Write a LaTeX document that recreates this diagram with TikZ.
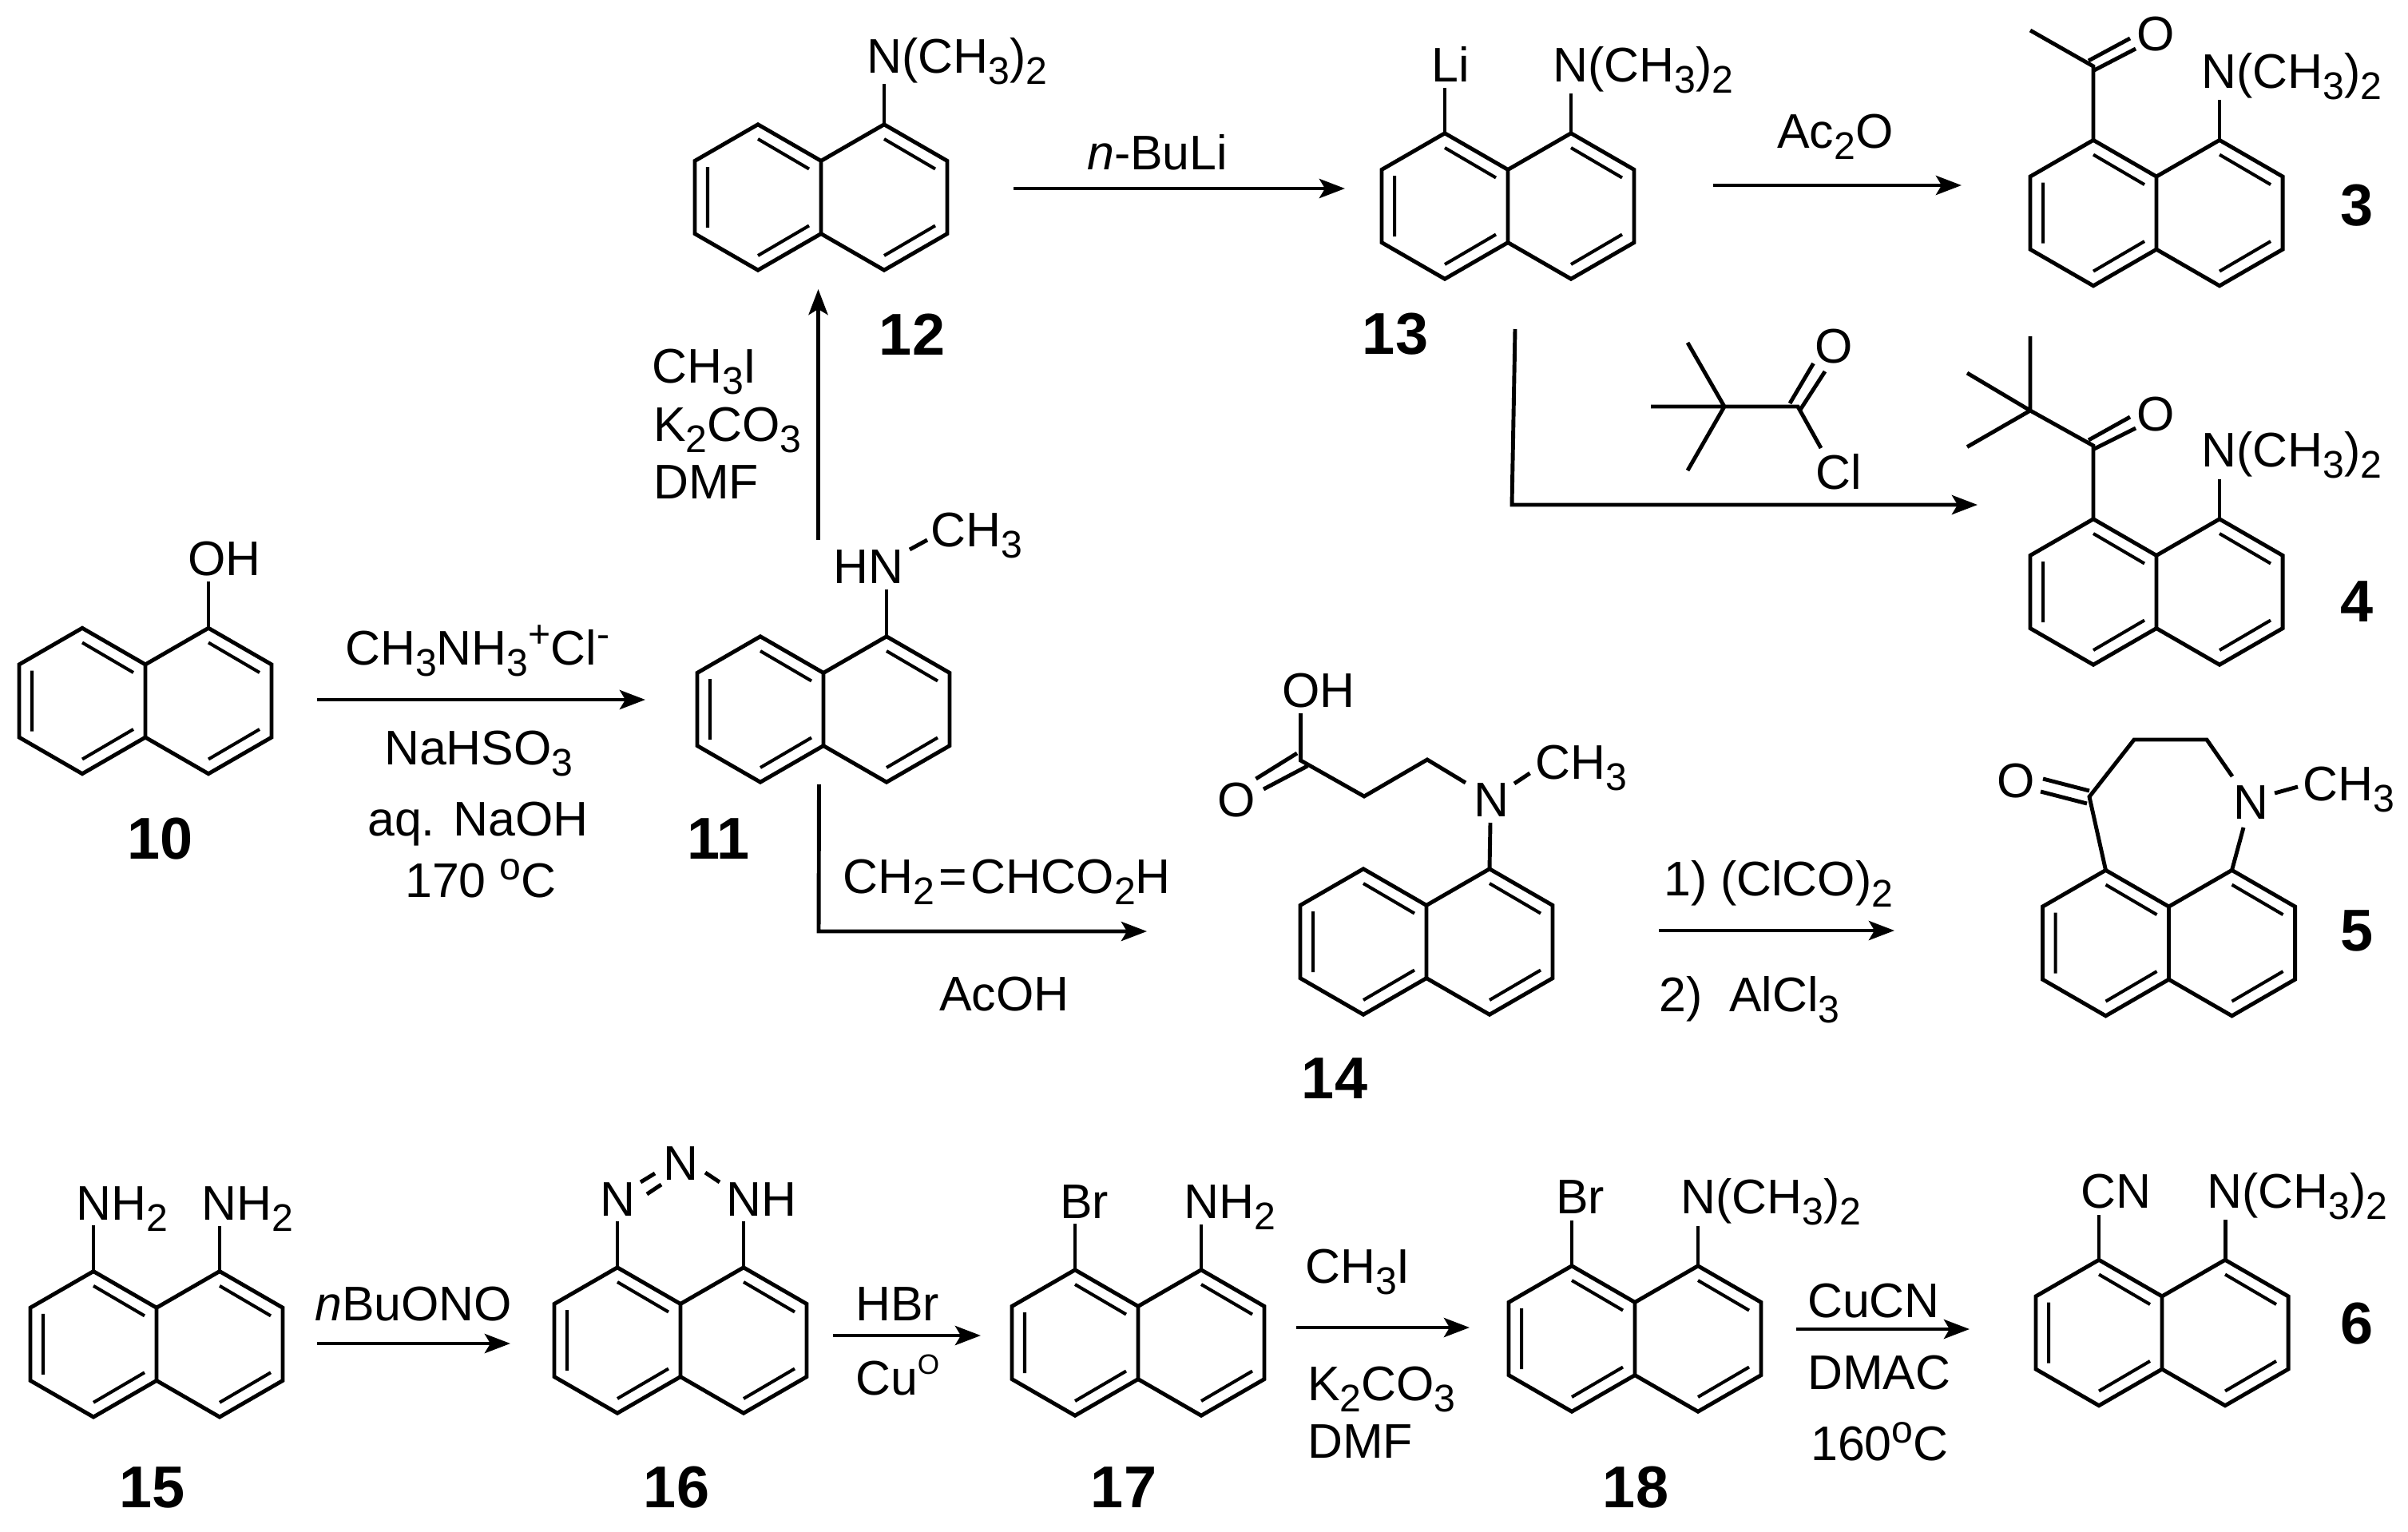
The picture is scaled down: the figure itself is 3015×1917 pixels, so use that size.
\documentclass[tikz,border=0pt]{standalone}
\usepackage{fontspec}
\setmainfont{Liberation Sans}
\usetikzlibrary{arrows.meta}
\newcommand{\chemsize}{\fontsize{17.3}{20}\selectfont}
\newcommand{\cmpdsize}{\fontsize{21}{24}\selectfont\bfseries}
\newcommand{\subs}[1]{\raisebox{-0.14cm}{\fontsize{13.7}{15}\selectfont #1}}
\newcommand{\sups}[1]{\raisebox{0.22cm}{\fontsize{13.7}{15}\selectfont #1}}
\tikzset{
    bond/.style={line width=1.4pt},
    innerbond/.style={line width=1.15pt},
    rxn/.style={line width=1.4pt,-{Stealth[length=0.32cm,width=0.24cm,inset=0.07cm]}},
    oxy/.style={font=\chemsize,inner sep=0pt,anchor=base},
    atom/.style={font=\chemsize,inner sep=0pt,anchor=base west,xshift=-0.035cm},
    cmpd/.style={font=\cmpdsize,inner sep=0pt,anchor=base}
}
\newcommand{\naphring}[3]{%
    \begin{scope}[shift={(#2,#3)}]
        \coordinate (#1a) at (-158,-45.6);
        \coordinate (#1b) at (-79,-91.2);
        \coordinate (#1c) at (0,-45.6);
        \coordinate (#1d) at (79,-91.2);
        \coordinate (#1e) at (158,-45.6);
        \coordinate (#1f) at (158,45.6);
        \coordinate (#1g) at (79,91.2);
        \coordinate (#1h) at (0,45.6);
        \coordinate (#1i) at (-79,91.2);
        \coordinate (#1j) at (-158,45.6);
        \draw[bond] (#1a) -- (#1b) -- (#1c) -- (#1d) -- (#1e) -- (#1f)
            -- (#1g) -- (#1h) -- (#1i) -- (#1j) -- cycle (#1c) -- (#1h);
        \draw[innerbond] (-142,-38) -- (-142,38)
            (-79,-73) -- (-15,-35.5) (-79,73) -- (-15,35.5)
            (79,-73) -- (143,-35.5) (79,73) -- (143,35.5);
    \end{scope}%
}
\begin{document}
\begin{tikzpicture}[x=0.01cm,y=-0.01cm]
    \useasboundingbox (0,0) rectangle (3015,1917);

    \naphring{r10}{182}{877.5}
    \node[atom] (oh10) at (238,720) {OH};
    \coordinate (b10) at (261,728);
    \draw[bond] (r10d) -- (b10);
    \node[cmpd] (c10) at (201,1075) {10};

    \coordinate (a1s) at (397,876);
    \coordinate (a1e) at (808,876);
    \draw[rxn] (a1s) -- (a1e);
    \node[atom] (rg1a) at (435,832) {CH\subs{3}NH\subs{3}\sups{+}Cl\sups{-}};
    \node[atom] (rg1b) at (484,957) {NaHSO\subs{3}};
    \node[atom] (rg1c) at (463,1046) {aq. NaOH};
    \node[atom] (rg1d) at (510,1123) {170 \sups{o}C};

    \naphring{r11}{1031}{888}
    \node[atom] (hn11) at (1046,730.5) {HN};
    \node[atom] (me11) at (1168,684) {CH\subs{3}};
    \coordinate (b11) at (1110,738);
    \coordinate (m11a) at (1139,688);
    \coordinate (m11b) at (1161,676);
    \draw[bond] (r11d) -- (b11);
    \draw[bond] (m11a) -- (m11b);
    \node[cmpd] (c11) at (900,1075) {11};

    \coordinate (a2s) at (1024.5,676);
    \coordinate (a2e) at (1024.5,362);
    \draw[rxn] (a2s) -- (a2e);
    \node[atom] (rg2a) at (819,479) {CH\subs{3}I};
    \node[atom] (rg2b) at (821,552) {K\subs{2}CO\subs{3}};
    \node[atom] (rg2c) at (821,624) {DMF};

    \naphring{r12}{1028}{247}
    \node[atom] (n12) at (1088,91.5) {N(CH\subs{3})\subs{2}};
    \coordinate (b12) at (1107,105);
    \draw[bond] (r12d) -- (b12);
    \node[cmpd] (c12) at (1142,444) {12};

    \coordinate (a3s) at (1269,236);
    \coordinate (a3e) at (1684,236);
    \draw[rxn] (a3s) -- (a3e);
    \node[atom] (rg3a) at (1364,212) {\textit{n}-BuLi};

    \naphring{r13}{1888}{258}
    \node[atom] (li13) at (1795,102) {Li};
    \node[atom] (n13) at (1947,102) {N(CH\subs{3})\subs{2}};
    \coordinate (l13) at (1809,110);
    \coordinate (b13) at (1967,117);
    \draw[bond] (r13b) -- (l13);
    \draw[bond] (r13d) -- (b13);
    \node[cmpd] (c13) at (1747,443) {13};

    \coordinate (a4s) at (2145,232);
    \coordinate (a4e) at (2456,232);
    \draw[rxn] (a4s) -- (a4e);
    \node[atom] (rg4a) at (2228,185) {Ac\subs{2}O};

    \naphring{r3}{2700}{266.6}
    \node[oxy] (o3) at (2699,63) {O};
    \node[atom] (n3) at (2759,110) {N(CH\subs{3})\subs{2}};
    \coordinate (co3) at (2621,83);
    \coordinate (me3) at (2542,38);
    \coordinate (b3) at (2779,125);
    \coordinate (d3a) at (2615,76);
    \coordinate (d3b) at (2667,48);
    \coordinate (d3c) at (2622,88);
    \coordinate (d3d) at (2674,61);
    \draw[bond] (r3b) -- (co3) -- (me3);
    \draw[bond] (d3a) -- (d3b) (d3c) -- (d3d);
    \draw[bond] (r3d) -- (b3);
    \node[cmpd] (c3) at (2951,282) {3};

    \coordinate (a5s) at (1897,412);
    \coordinate (a5m) at (1893,632);
    \coordinate (a5e) at (2476,632);
    \draw[rxn] (a5s) -- (a5m) -- (a5e);
    \coordinate (pc) at (2159,509);
    \coordinate (pl) at (2067,509);
    \coordinate (pu) at (2113,429);
    \coordinate (pd) at (2113,589);
    \coordinate (pco) at (2251,509);
    \coordinate (pcl) at (2280,561);
    \coordinate (pda) at (2241,505);
    \coordinate (pdb) at (2270.5,455);
    \coordinate (pdc) at (2254,513);
    \coordinate (pdd) at (2285,465);
    \draw[bond] (pl) -- (pc) -- (pco) -- (pcl) (pu) -- (pc) -- (pd);
    \draw[bond] (pda) -- (pdb) (pdc) -- (pdd);
    \node[oxy] (op) at (2296,454) {O};
    \node[atom] (clp) at (2276,612) {Cl};

    \naphring{r4}{2700}{741}
    \node[oxy] (o4) at (2699,539) {O};
    \node[atom] (n4) at (2759,584) {N(CH\subs{3})\subs{2}};
    \coordinate (co4) at (2621,558);
    \coordinate (tb4) at (2542,514);
    \coordinate (tu4) at (2542,421);
    \coordinate (tl4) at (2463,467);
    \coordinate (td4) at (2463,559.5);
    \coordinate (b4) at (2779,600);
    \coordinate (d4a) at (2615,551);
    \coordinate (d4b) at (2667,522);
    \coordinate (d4c) at (2622,562);
    \coordinate (d4d) at (2674,536);
    \draw[bond] (r4b) -- (co4) -- (tb4) -- (tu4) (tl4) -- (tb4) -- (td4);
    \draw[bond] (d4a) -- (d4b) (d4c) -- (d4d);
    \draw[bond] (r4d) -- (b4);
    \node[cmpd] (c4) at (2951,778) {4};

    \coordinate (a6s) at (1025.5,982);
    \coordinate (a6m) at (1025,1166);
    \coordinate (a6e) at (1436,1166);
    \draw[rxn] (a6s) -- (a6m) -- (a6e);
    \node[atom] (rg6a) at (1058,1118) {CH\subs{2}\kern1.5pt=\kern1.5ptCHCO\subs{2}H};
    \node[atom] (rg6b) at (1179,1265) {AcOH};

    \naphring{r14}{1786}{1179}
    \node[atom] (oh14) at (1608,885) {OH};
    \node[oxy] (o14) at (1548,1022) {O};
    \node[atom] (n14) at (1848,1022) {N};
    \node[atom] (me14) at (1925,975) {CH\subs{3}};
    \coordinate (s14a) at (1628.5,893);
    \coordinate (s14b) at (1628.5,952);
    \coordinate (s14c) at (1708,997);
    \coordinate (s14d) at (1787,951);
    \coordinate (s14e) at (1835,980);
    \coordinate (d14a) at (1624,943);
    \coordinate (d14b) at (1572.5,975);
    \coordinate (d14c) at (1637,959);
    \coordinate (d14d) at (1582,988);
    \coordinate (m14a) at (1896,981);
    \coordinate (m14b) at (1915.5,968);
    \coordinate (b14) at (1866,1030);
    \draw[bond] (s14a) -- (s14b) -- (s14c) -- (s14d) -- (s14e);
    \draw[bond] (d14a) -- (d14b) (d14c) -- (d14d);
    \draw[bond] (m14a) -- (m14b);
    \draw[bond] (r14d) -- (b14);
    \node[cmpd] (c14) at (1671,1375) {14};

    \coordinate (a7s) at (2077,1165);
    \coordinate (a7e) at (2372,1165);
    \draw[rxn] (a7s) -- (a7e);
    \node[atom] (rg7a) at (2086,1121) {1) (ClCO)\subs{2}};
    \node[atom] (rg7b) at (2080,1266) {2)\ \ AlCl\subs{3}};

    \naphring{r5}{2715.5}{1180.6}
    \node[oxy] (o5) at (2524,998) {O};
    \node[atom] (n5) at (2799.5,1025) {N};
    \node[atom] (me5) at (2886,1002) {CH\subs{3}};
    \coordinate (s5a) at (2616,997.5);
    \coordinate (s5b) at (2672,926);
    \coordinate (s5c) at (2763,926);
    \coordinate (s5d) at (2795,972);
    \coordinate (s5e) at (2809,1036);
    \coordinate (d5a) at (2558,975);
    \coordinate (d5b) at (2616,990);
    \coordinate (d5c) at (2555,991);
    \coordinate (d5d) at (2613,1006);
    \coordinate (m5a) at (2848,993);
    \coordinate (m5b) at (2877,985);
    \draw[bond] (r5b) -- (s5a) -- (s5b) -- (s5c) -- (s5d);
    \draw[bond] (d5a) -- (d5b) (d5c) -- (d5d);
    \draw[bond] (r5d) -- (s5e);
    \draw[bond] (m5a) -- (m5b);
    \node[cmpd] (c5) at (2951,1190) {5};

    \naphring{r15}{196}{1682.8}
    \node[atom] (n15a) at (98,1527) {NH\subs{2}};
    \node[atom] (n15b) at (255.5,1527) {NH\subs{2}};
    \coordinate (b15a) at (117,1534);
    \coordinate (b15b) at (275,1535);
    \draw[bond] (r15b) -- (b15a);
    \draw[bond] (r15d) -- (b15b);
    \node[cmpd] (c15) at (191,1887) {15};

    \coordinate (a8s) at (397,1682);
    \coordinate (a8e) at (639,1682);
    \draw[rxn] (a8s) -- (a8e);
    \node[atom] (rg8a) at (397,1653) {\textit{n}BuONO};

    \naphring{r16}{852}{1678}
    \node[atom] (n16a) at (754,1522) {N};
    \node[atom] (n16b) at (833,1477) {N};
    \node[atom] (n16c) at (912,1522) {NH};
    \coordinate (b16a) at (773,1529);
    \coordinate (b16c) at (931,1529);
    \coordinate (d16a) at (802,1480);
    \coordinate (d16b) at (820,1469);
    \coordinate (d16c) at (810,1495);
    \coordinate (d16d) at (828,1483);
    \coordinate (s16a) at (883,1468);
    \coordinate (s16b) at (901,1480);
    \draw[bond] (r16b) -- (b16a);
    \draw[bond] (r16d) -- (b16c);
    \draw[bond] (d16a) -- (d16b) (d16c) -- (d16d);
    \draw[bond] (s16a) -- (s16b);
    \node[cmpd] (c16) at (847,1887) {16};

    \coordinate (a9s) at (1043,1672);
    \coordinate (a9e) at (1228,1672);
    \draw[rxn] (a9s) -- (a9e);
    \node[atom] (rg9a) at (1074,1653) {HBr};
    \node[atom] (rg9b) at (1074,1746) {Cu\raisebox{0.26cm}{\fontsize{10}{12}\selectfont O}};

    \naphring{r17}{1425}{1681}
    \node[atom] (br17) at (1330,1525) {Br};
    \node[atom] (n17) at (1485,1525) {NH\subs{2}};
    \coordinate (l17) at (1346,1532);
    \coordinate (b17) at (1504,1533);
    \draw[bond] (r17b) -- (l17);
    \draw[bond] (r17d) -- (b17);
    \node[cmpd] (c17) at (1407,1887) {17};

    \coordinate (a10s) at (1623,1662);
    \coordinate (a10e) at (1840,1662);
    \draw[rxn] (a10s) -- (a10e);
    \node[atom] (rg10a) at (1637,1606) {CH\subs{3}I};
    \node[atom] (rg10b) at (1640,1753) {K\subs{2}CO\subs{3}};
    \node[atom] (rg10c) at (1640,1825) {DMF};

    \naphring{r18}{2047}{1676}
    \node[atom] (br18) at (1951,1519) {Br};
    \node[atom] (n18) at (2107,1519) {N(CH\subs{3})\subs{2}};
    \coordinate (l18) at (1968,1528);
    \coordinate (b18) at (2126,1535);
    \draw[bond] (r18b) -- (l18);
    \draw[bond] (r18d) -- (b18);
    \node[cmpd] (c18) at (2048,1887) {18};

    \coordinate (a11s) at (2249,1664);
    \coordinate (a11e) at (2466,1664);
    \draw[rxn] (a11s) -- (a11e);
    \node[atom] (rg11a) at (2266,1649) {CuCN};
    \node[atom] (rg11b) at (2266,1739) {DMAC};
    \node[atom] (rg11c) at (2270,1828) {160\sups{o}C};

    \naphring{r6}{2707}{1668.5}
    \node[atom] (cn6) at (2608,1512) {CN};
    \node[atom] (n6) at (2766,1512) {N(CH\subs{3})\subs{2}};
    \coordinate (l6) at (2628,1521);
    \coordinate (b6) at (2786,1527);
    \draw[bond] (r6b) -- (l6);
    \draw[bond] (r6d) -- (b6);
    \node[cmpd] (c6) at (2951,1682) {6};
\end{tikzpicture}
\end{document}
